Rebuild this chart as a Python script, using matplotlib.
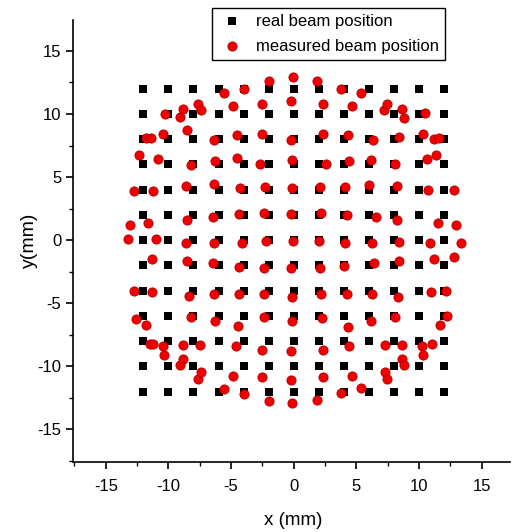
import matplotlib
matplotlib.use("Agg")
import matplotlib.pyplot as plt
from matplotlib.ticker import MultipleLocator
import numpy as np

plt.rcParams['font.family'] = ['Liberation Sans', 'DejaVu Sans']
plt.rcParams['axes.unicode_minus'] = False

# real beam positions: 13 x 13 grid
grid_vals = [-12, -10, -8, -6, -4, -2, 0, 2, 4, 6, 8, 10, 12]

# measured beam positions
meas_x = [
    -5.54, -3.94, -1.97, -0.08, 1.84, 3.78, 5.37,
    -10.27, -9.05, -8.81, -7.61, -7.42, -4.82, -2.5, -0.24, 2.36, 4.63, 7.23, 7.45, 8.67, 8.83, 10.48,
    -11.81, -11.41, -10.45, -8.49, -6.36, -4.55, -2.5, -0.19, 2.36, 4.36, 6.35, 8.4, 10.29, 11.22, 11.62,
    -12.35, -10.85, -8.22, -6.28, -4.55, -2.66, -0.1, 2.55, 4.41, 6.14, 8.08, 10.66, 11.33,
    -12.75, -11.2, -8.62, -6.34, -4.26, -2.29, -0.1, 2.1, 4.09, 6.03, 8.27, 10.74, 12.79,
    -13.06, -11.65, -8.54, -6.46, -4.37, -2.37, -0.21, 2.18, 4.23, 6.54, 8.27, 11.54, 12.93,
    -13.2, -11.0, -8.6, -6.34, -4.15, -2.23, -0.08, 2.04, 4.09, 6.22, 8.43, 10.88, 13.33,
    -11.33, -8.54, -6.42, -4.37, -2.37, -0.21, 2.1, 4.04, 6.41, 8.43, 11.2, 12.82,
    -12.75, -11.28, -8.36, -6.34, -4.37, -2.35, -0.1, 2.15, 4.28, 6.27, 8.35, 10.96, 12.15,
    -12.59, -11.79, -8.2, -6.28, -4.42, -2.37, -0.1, 2.23, 4.31, 6.14, 8.08, 11.68, 12.21,
    -11.47, -11.2, -10.4, -10.33, -8.81, -7.48, -4.6, -2.5, -0.21, 2.36, 4.44, 7.29, 8.62, 10.22, 10.34, 11.01,
    -9.05, -8.81, -7.61, -7.42, -4.82, -2.5, -0.21, 2.36, 4.63, 7.29, 7.42, 8.67, 8.83,
    -5.54, -3.94, -1.97, -0.1, 1.84, 3.78, 5.37,
]
meas_y = [
    11.70, 12.02, 12.6, 12.94, 12.6, 12.02, 11.70,
    9.98, 9.77, 10.38, 10.83, 10.3, 10.64, 10.83, 11.0, 10.83, 10.64, 10.3, 10.83, 10.36, 9.72, 10.12,
    8.1, 8.1, 8.4, 8.77, 7.98, 8.37, 8.45, 7.98, 8.45, 8.37, 7.98, 8.14, 8.4, 8.0, 8.1,
    6.74, 6.47, 5.94, 6.28, 6.55, 6.02, 6.39, 6.0, 6.28, 6.39, 6.0, 6.47, 6.74,
    3.9, 3.9, 4.3, 4.44, 4.17, 4.22, 4.14, 4.22, 4.22, 4.36, 4.28, 3.96, 3.96,
    1.19, 1.4, 1.64, 1.85, 2.06, 2.19, 2.06, 2.19, 2.03, 1.85, 1.64, 1.4, 1.19,
    0.13, 0.13, -0.21, -0.21, -0.21, -0.08, -0.08, -0.08, -0.21, -0.21, -0.13, -0.26, -0.26,
    -1.45, -1.66, -1.77, -2.11, -2.19, -2.17, -2.17, -2.06, -1.77, -1.66, -1.45, -1.32,
    -4.0, -4.1, -4.41, -4.28, -4.28, -4.28, -4.49, -4.28, -4.3, -4.3, -4.49, -4.1, -4.02,
    -6.26, -6.68, -6.07, -6.39, -6.79, -6.07, -6.39, -6.13, -6.87, -6.39, -6.07, -6.74, -6.02,
    -8.19, -8.19, -8.4, -9.1, -8.32, -8.32, -8.4, -8.72, -8.77, -8.72, -8.4, -8.32, -8.32, -8.4, -9.1, -8.19,
    -9.9, -9.38, -10.96, -10.43, -10.75, -10.83, -11.05, -10.83, -10.75, -10.43, -10.96, -9.38, -9.9,
    -11.83, -12.15, -12.73, -12.88, -12.68, -12.1, -11.75,
]

gx, gy = np.meshgrid(grid_vals, grid_vals)

fig = plt.figure(figsize=(5.12, 5.32), dpi=100)
ax = fig.add_axes([0.143, 0.131, 0.854, 0.8314])

ax.scatter(gx.ravel(), gy.ravel(), marker='s', s=30, color='black', linewidths=0,
           label='real beam position', zorder=2)
ax.scatter(meas_x, meas_y, marker='o', s=44, color='#f00000', edgecolors='#b00000',
           linewidths=0.6, label='measured beam position', zorder=3)

ax.set_xlim(-17.6, 17.3)
ax.set_ylim(-17.6, 17.45)

for s in ['top', 'right']:
    ax.spines[s].set_visible(False)
for s in ['left', 'bottom']:
    ax.spines[s].set_linewidth(1.2)

ax.xaxis.set_major_locator(MultipleLocator(5))
ax.xaxis.set_minor_locator(MultipleLocator(2.5))
ax.yaxis.set_major_locator(MultipleLocator(5))
ax.yaxis.set_minor_locator(MultipleLocator(2.5))
ax.tick_params(which='major', direction='out', length=5, width=1.2, labelsize=12)
ax.tick_params(axis='x', which='major', pad=7)
ax.tick_params(which='minor', direction='out', length=3, width=1.0)

ax.set_xlabel('x (mm)', fontsize=13.5)
ax.set_ylabel('y(mm)', fontsize=14)
ax.xaxis.set_label_coords(0.502, -0.113)
ax.yaxis.set_label_coords(-0.08, 0.503)

leg = ax.legend(loc='upper left', bbox_to_anchor=(212/512, 1 - 8/532),
                bbox_transform=fig.transFigure, borderaxespad=0, fontsize=12,
                scatterpoints=1, frameon=True, fancybox=False, framealpha=1,
                edgecolor='black', handletextpad=0.6, borderpad=0.35,
                labelspacing=0.6, handlelength=1.7)
leg.get_frame().set_linewidth(1.0)

fig.savefig('out.png', dpi=100)
